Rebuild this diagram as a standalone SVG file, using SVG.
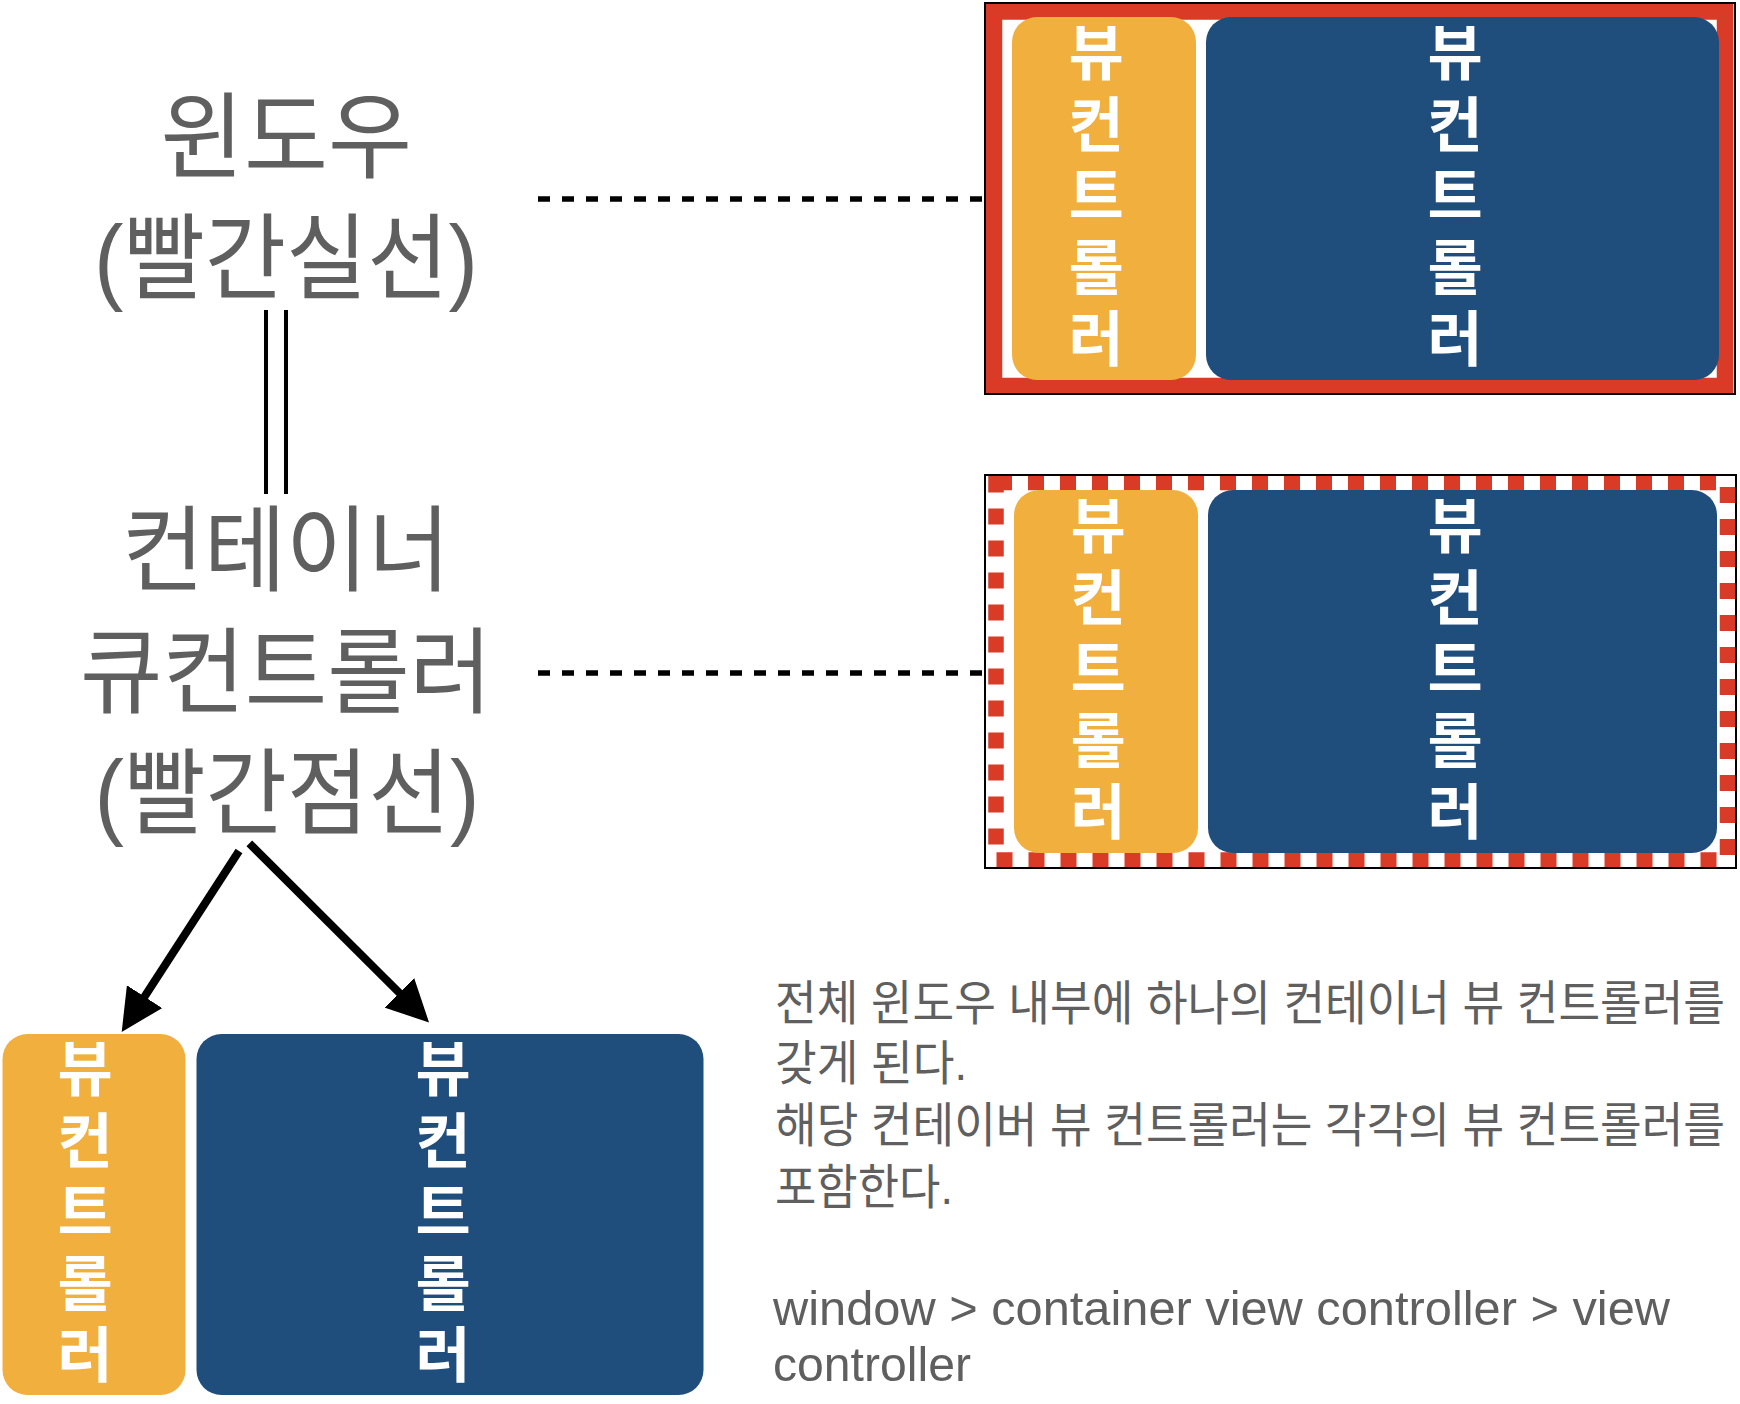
<svg xmlns="http://www.w3.org/2000/svg" width="1740" height="1404" viewBox="0 0 1740 1404">
<style>
.big{font-family:"Liberation Sans","Noto Sans CJK KR",sans-serif;font-size:94px;fill:#5f5f5f;text-anchor:middle}
.para{font-family:"Liberation Sans","Noto Sans CJK KR",sans-serif;font-size:48px;fill:#5f5f5f}
.vt{font-family:"Noto Sans CJK KR",sans-serif;font-size:60px;font-weight:bold;fill:#ffffff;text-anchor:middle}
.orange{fill:#f1b03e}
.blue{fill:#1f4d7c}
.frame{fill:none;stroke:#000;stroke-width:2}
.dots{fill:none;stroke:#000;stroke-width:5.5;stroke-dasharray:12 12}
.arrow{fill:none;stroke:#000;stroke-width:8;marker-end:url(#ah)}
</style>
<defs>
<marker id="ah" markerUnits="userSpaceOnUse" markerWidth="42" markerHeight="42" viewBox="0 0 42 42" refX="1" refY="21" orient="auto">
<path d="M0,0 L42,21 L0,42 z" fill="#000"/>
</marker>
</defs>
<rect x="0" y="0" width="1740" height="1404" fill="#fff"/>

<g id="window-label">
<text class="big" x="286" y="171" textLength="252" lengthAdjust="spacingAndGlyphs">윈도우</text>
<text class="big" x="286" y="292" textLength="384" lengthAdjust="spacingAndGlyphs">(빨간실선)</text>
</g>
<g id="container-label">
<text class="big" x="286" y="584" textLength="328" lengthAdjust="spacingAndGlyphs">컨테이너</text>
<text class="big" x="286" y="706" textLength="412" lengthAdjust="spacingAndGlyphs">큐컨트롤러</text>
<text class="big" x="287" y="827" textLength="385" lengthAdjust="spacingAndGlyphs">(빨간점선)</text>
</g>

<g id="window-box">
<rect x="994" y="11.5" width="731" height="374.5" fill="none" stroke="#da3b26" stroke-width="16.5"/>
<rect class="frame" x="985" y="3" width="750" height="391"/>
</g>
<g id="window-vc-orange">
<rect class="orange" x="1012" y="17" width="184" height="363" rx="25"/>
<text class="vt" x="1096"><tspan x="1096" y="75">뷰</tspan><tspan x="1096" y="146.5">컨</tspan><tspan x="1096" y="218">트</tspan><tspan x="1096" y="289.5">롤</tspan><tspan x="1096" y="361">러</tspan></text>
</g>
<g id="window-vc-blue">
<rect class="blue" x="1206" y="17" width="513" height="363" rx="25"/>
<text class="vt" x="1455"><tspan x="1455" y="75">뷰</tspan><tspan x="1455" y="146.5">컨</tspan><tspan x="1455" y="218">트</tspan><tspan x="1455" y="289.5">롤</tspan><tspan x="1455" y="361">러</tspan></text>
</g>

<g id="container-box">
<rect x="996" y="482.5" width="731.5" height="377.5" fill="none" stroke="#da3b26" stroke-width="15.5" stroke-dasharray="16 16"/>
<rect class="frame" x="985" y="475" width="751" height="393"/>
</g>
<g id="container-vc-orange">
<rect class="orange" x="1014" y="490" width="184" height="363" rx="25"/>
<text class="vt" x="1098"><tspan x="1098" y="548">뷰</tspan><tspan x="1098" y="619.5">컨</tspan><tspan x="1098" y="691">트</tspan><tspan x="1098" y="762.5">롤</tspan><tspan x="1098" y="834">러</tspan></text>
</g>
<g id="container-vc-blue">
<rect class="blue" x="1208" y="490" width="509" height="363" rx="25"/>
<text class="vt" x="1455"><tspan x="1455" y="548">뷰</tspan><tspan x="1455" y="619.5">컨</tspan><tspan x="1455" y="691">트</tspan><tspan x="1455" y="762.5">롤</tspan><tspan x="1455" y="834">러</tspan></text>
</g>

<g id="child-vc-orange">
<rect class="orange" x="2.5" y="1034" width="183" height="361" rx="25"/>
<text class="vt" x="85"><tspan x="85" y="1091">뷰</tspan><tspan x="85" y="1162.5">컨</tspan><tspan x="85" y="1234">트</tspan><tspan x="85" y="1305.5">롤</tspan><tspan x="85" y="1377">러</tspan></text>
</g>
<g id="child-vc-blue">
<rect class="blue" x="196.5" y="1034" width="507" height="361" rx="25"/>
<text class="vt" x="443"><tspan x="443" y="1091">뷰</tspan><tspan x="443" y="1162.5">컨</tspan><tspan x="443" y="1234">트</tspan><tspan x="443" y="1305.5">롤</tspan><tspan x="443" y="1377">러</tspan></text>
</g>

<g id="description">
<text class="para" x="775" y="1019.5" textLength="950" lengthAdjust="spacingAndGlyphs">전체 윈도우 내부에 하나의 컨테이너 뷰 컨트롤러를</text>
<text class="para" x="775" y="1080" textLength="192" lengthAdjust="spacingAndGlyphs">갖게 된다.</text>
<text class="para" x="775" y="1142" textLength="950" lengthAdjust="spacingAndGlyphs">해당 컨테이버 뷰 컨트롤러는 각각의 뷰 컨트롤러를</text>
<text class="para" x="775" y="1204" textLength="178" lengthAdjust="spacingAndGlyphs">포함한다.</text>
<text class="para" x="773" y="1325" textLength="897" lengthAdjust="spacingAndGlyphs">window &gt; container view controller &gt; view</text>
<text class="para" x="773" y="1381" textLength="198" lengthAdjust="spacingAndGlyphs">controller</text>
</g>

<g id="connectors">
<line x1="266" y1="310" x2="266" y2="494" stroke="#000" stroke-width="4"/>
<line x1="286" y1="310" x2="286" y2="494" stroke="#000" stroke-width="4"/>
<line class="dots" x1="538" y1="199" x2="982" y2="199"/>
<line class="dots" x1="538" y1="673" x2="982" y2="673"/>
<line class="arrow" x1="239" y1="851" x2="144" y2="997.5"/>
<line class="arrow" x1="249.3" y1="843.3" x2="400" y2="993.5"/>
</g>
</svg>
